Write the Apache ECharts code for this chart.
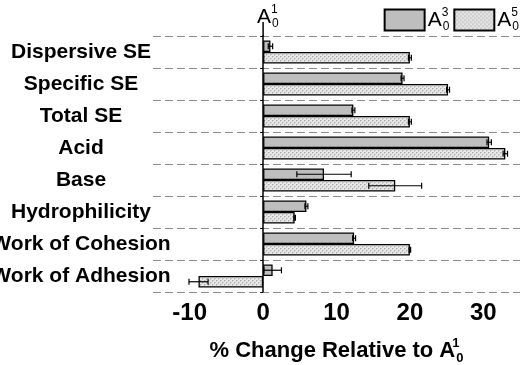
<!DOCTYPE html>
<html>
<head>
<meta charset="utf-8">
<script src="https://cdn.jsdelivr.net/npm/echarts@6/dist/echarts.min.js"></script>
<style>
  html, body { margin: 0; padding: 0; background: #fff; }
  #chart { width: 526px; height: 365px; }
</style>
</head>
<body>
<div id="chart"></div>
<script>
  // categories top -> bottom
  var categories = ['Dispersive SE', 'Specific SE', 'Total SE', 'Acid', 'Base', 'Hydrophilicity', 'Work of Cohesion', 'Work of Adhesion'];
  // % change relative to A01
  var a3Values = [1.0, 19.0, 12.3, 30.8, 8.3, 5.9, 12.4, 1.3];
  var a3Errors = [0.3, 0.2, 0.2, 0.3, 3.7, 0.2, 0.2, 1.2];
  var a5Values = [20.0, 25.2, 20.0, 33.0, 18.0, 4.3, 20.0, -8.8];
  var a5Errors = [0.2, 0.2, 0.2, 0.3, 3.6, 0.1, 0.1, 1.3];
  var xTicks = [-10, 0, 10, 20, 30];

  var FONT = '"Liberation Sans", Arial, sans-serif';
  var BAR_W = 11.5;

  // crosshatch fill for A05
  function hatch() {
    var c = document.createElement('canvas');
    c.width = 4; c.height = 4;
    var g = c.getContext('2d');
    g.fillStyle = '#e8e8e8';
    g.fillRect(0, 0, 4, 4);
    g.fillStyle = '#adadad';
    g.fillRect(0, 0, 1, 1);
    g.fillRect(2, 2, 1, 1);
    g.fillStyle = '#cccccc';
    g.fillRect(1, 0, 1, 1); g.fillRect(0, 1, 1, 1);
    g.fillRect(3, 2, 1, 1); g.fillRect(2, 3, 1, 1);
    return c;
  }

  var rich = {
    A: { fontSize: 21, fontFamily: FONT, color: '#000', lineHeight: 26 },
    sup: { fontSize: 12, fontFamily: FONT, color: '#000', verticalAlign: 'top', lineHeight: 12, width: 1 },
    sub: { fontSize: 12, fontFamily: FONT, color: '#000', verticalAlign: 'bottom', lineHeight: 12 }
  };
  function aLabel(sup) {
    return '{A|A}{sup|' + sup + '}{sub|0}';
  }

  function errData(vals, errs) {
    return vals.map(function (v, i) { return [v, i, errs[i]]; });
  }

  function errSeries(name, vals, errs, offset) {
    return {
      name: name + 'err',
      type: 'custom',
      z: 5,
      silent: true,
      encode: { x: 0, y: 1 },
      data: errData(vals, errs),
      renderItem: function (params, api) {
        var v = api.value(0), i = api.value(1), e = api.value(2);
        var lo = api.coord([v - e, i]);
        var hi = api.coord([v + e, i]);
        var y = lo[1] + offset;
        var cap = 3;
        var st = { stroke: '#000', lineWidth: 1.2 };
        return {
          type: 'group',
          children: [
            { type: 'line', shape: { x1: lo[0], y1: y, x2: hi[0], y2: y }, style: st },
            { type: 'line', shape: { x1: lo[0], y1: y - cap, x2: lo[0], y2: y + cap }, style: st },
            { type: 'line', shape: { x1: hi[0], y1: y - cap, x2: hi[0], y2: y + cap }, style: st }
          ]
        };
      }
    };
  }

  var chart = echarts.init(document.getElementById('chart'));
  var option = {
    animation: false,
    grid: { left: 153, right: 6, top: 36, bottom: 73, outerBoundsMode: 'none' },
    legend: {
      data: ['A3', 'A5'],
      icon: 'rect',
      right: 2,
      top: 2,
      itemWidth: 40,
      itemHeight: 21,
      itemGap: 4,
      selectedMode: false,
      formatter: function (n) { return n === 'A3' ? aLabel(3) : aLabel(5); },
      textStyle: { rich: rich, padding: [0, 0, 0, -2] }
    },
    xAxis: {
      type: 'value',
      min: -15,
      max: 35,
      interval: 5,
      splitLine: { show: false },
      axisLine: { onZero: false, lineStyle: { color: '#000', width: 1.5 } },
      axisTick: { length: 4, lineStyle: { color: '#000', width: 1.2 } },
      axisLabel: {
        margin: 9,
        fontSize: 24,
        fontWeight: 'bold',
        fontFamily: FONT,
        color: '#000',
        formatter: function (v) { return xTicks.indexOf(v) >= 0 ? String(v) : ''; }
      },
      name: '{t|% Change Relative to }' + '{A|A}{sup|1}{sub|0}',
      nameLocation: 'middle',
      nameGap: 45,
      nameTextStyle: {
        rich: {
          t: { fontSize: 22, fontWeight: 'bold', fontFamily: FONT, color: '#000', lineHeight: 28 },
          A: { fontSize: 22, fontWeight: 'bold', fontFamily: FONT, color: '#000', lineHeight: 28 },
          sup: { fontSize: 13, fontWeight: 'bold', fontFamily: FONT, color: '#000', verticalAlign: 'top', lineHeight: 13, width: 1 },
          sub: { fontSize: 13, fontWeight: 'bold', fontFamily: FONT, color: '#000', verticalAlign: 'bottom', lineHeight: 13 }
        }
      }
    },
    yAxis: [{
      type: 'category',
      inverse: true,
      data: categories,
      axisLine: { show: false, onZero: false },
      axisTick: { show: false },
      splitLine: { show: true, lineStyle: { color: '#8a8a8a', width: 1.2, type: [8, 4] } },
      axisLabel: {
        margin: 72,
        align: 'center',
        fontSize: 21,
        fontWeight: 'bold',
        fontFamily: FONT,
        color: '#000'
      }
    }, {
      type: 'category',
      inverse: true,
      data: categories,
      position: 'left',
      axisLine: { show: true, onZero: true, lineStyle: { color: '#000', width: 1.5 } },
      axisTick: { show: true, length: 3, lineStyle: { color: '#000', width: 1 } },
      axisLabel: { show: false },
      splitLine: { show: false }
    }],
    series: [{
      name: 'A3',
      type: 'bar',
      yAxisIndex: 0,
      barWidth: BAR_W,
      barGap: '0%',
      data: a3Values,
      itemStyle: { color: '#bebebe', borderColor: '#000', borderWidth: 1.3 }
    }, {
      name: 'A5',
      type: 'bar',
      yAxisIndex: 0,
      barWidth: BAR_W,
      barGap: '0%',
      data: a5Values,
      itemStyle: { color: { image: hatch(), repeat: 'repeat' }, borderColor: '#000', borderWidth: 1.3 }
    },
    errSeries('A3', a3Values, a3Errors, -BAR_W / 2),
    errSeries('A5', a5Values, a5Errors, BAR_W / 2)
    ]
  };
  chart.setOption(option);

  // zero-axis extension and its A01 label above the plot
  var zx = chart.convertToPixel({ xAxisIndex: 0 }, 0);
  chart.setOption({
    graphic: [{
      type: 'line',
      shape: { x1: zx, y1: 22, x2: zx, y2: 37 },
      style: { stroke: '#000', lineWidth: 1.5 }
    }, {
      type: 'text',
      x: zx - 6,
      y: 4,
      style: { text: aLabel(1), rich: rich }
    }]
  });
</script>
</body>
</html>
